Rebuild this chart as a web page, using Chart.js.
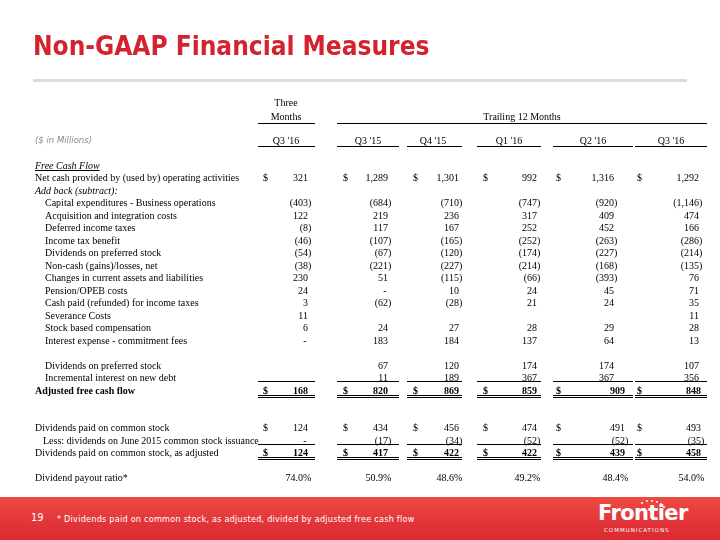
<!DOCTYPE html>
<html>
<head>
<meta charset="utf-8">
<script src="https://cdn.jsdelivr.net/npm/chart.js@4.4.0/dist/chart.umd.min.js"></script>
<style>
  html, body { margin: 0; padding: 0; background: #fff; }
  #slide { position: relative; width: 720px; height: 540px; overflow: hidden; }
  #slide canvas { position: absolute; left: 0; top: 0; }
  #title { position: absolute; left: 33px; top: 33px; font: bold 26px/26px "DejaVu Sans Condensed", "DejaVu Sans", sans-serif; color: #d2232e; white-space: nowrap; }
  #rule { position: absolute; left: 33px; top: 79px; width: 654px; height: 3px; background: #dcdcdc; }
  #foot { position: absolute; left: 0; top: 497px; width: 720px; height: 43px; background: linear-gradient(180deg, #ef4b43 0%, #e3363a 55%, #da2a30 100%); color: #fff; }
  #pg { position: absolute; left: 31px; top: 15px; font: 11px/12px "DejaVu Sans Condensed", sans-serif; }
  #note { position: absolute; left: 57px; top: 17px; font: 9px/10px "DejaVu Sans Condensed", sans-serif; letter-spacing: 0.25px; white-space: nowrap; }
  #fr { position: absolute; left: 598px; top: 5px; font: bold 21px/23px "DejaVu Sans", sans-serif; letter-spacing: -0.6px; }
  #comm { position: absolute; left: 604px; top: 30px; font: 5.5px/6px "DejaVu Sans", sans-serif; letter-spacing: 1px; }
  .dot { position: absolute; width: 2px; height: 2px; border-radius: 1px; background: #fff; }
</style>
</head>
<body>
<div id="slide">
  <canvas id="table" width="720" height="540"></canvas>
  <div id="title">Non-GAAP Financial Measures</div>
  <div id="rule"></div>
  <div id="foot">
    <span id="pg">19</span>
    <span id="note">* Dividends paid on common stock, as adjusted, divided by adjusted free cash flow</span>
    <span class="dot" style="left:641px;top:5px"></span>
    <span class="dot" style="left:646px;top:3px"></span>
    <span class="dot" style="left:651px;top:3px"></span>
    <span class="dot" style="left:656px;top:4px"></span>
    <span class="dot" style="left:660px;top:6px"></span>
    <span class="dot" style="left:663px;top:9px"></span>
    <div id="fr">Frontier</div>
    <div id="comm">COMMUNICATIONS</div>
  </div>
</div>
<script>
// periods ($ in millions); first is the three-month column, the rest trailing 12 months
const periods = ["Q3 '16", "Q3 '15", "Q4 '15", "Q1 '16", "Q2 '16", "Q3 '16"];

const netCashOps        = [321, 1289, 1301, 992, 1316, 1292];
const capexBusiness     = [-403, -684, -710, -747, -920, -1146];
const acquisitionCosts  = [122, 219, 236, 317, 409, 474];
const deferredTaxes     = [-8, 117, 167, 252, 452, 166];
const incomeTaxBenefit  = [-46, -107, -165, -252, -263, -286];
const prefDividendsSub  = [-54, -67, -120, -174, -227, -214];
const nonCashGains      = [-38, -221, -227, -214, -168, -135];
const workingCapital    = [230, 51, -115, -66, -393, 76];
const pensionOpeb       = [24, 0, 10, 24, 45, 71];
const cashTaxes         = [3, -62, -28, 21, 24, 35];
const severanceCosts    = [11, null, null, null, null, 11];
const stockComp         = [6, 24, 27, 28, 29, 28];
const commitmentFees    = [0, 183, 184, 137, 64, 13];
const prefDividendsAdd  = [null, 67, 120, 174, 174, 107];
const newDebtInterest   = [null, 11, 189, 367, 367, 356];
const adjustedFcf       = [168, 820, 869, 859, 909, 848];
const commonDividends   = [124, 434, 456, 474, 491, 493];
const june2015Issuance  = [0, -17, -34, -52, -52, -35];
const adjustedDividends = [124, 417, 422, 422, 439, 458];
const payoutRatio       = [74.0, 50.9, 48.6, 49.2, 48.4, 54.0];

const rows = [
  { label: 'Free Cash Flow', style: 'section' },
  { label: 'Net cash provided by (used by) operating activities', values: netCashOps, dollar: true },
  { label: 'Add back (subtract):', style: 'italic' },
  { label: 'Capital expenditures - Business operations', values: capexBusiness, indent: 1 },
  { label: 'Acquisition and integration costs', values: acquisitionCosts, indent: 1 },
  { label: 'Deferred income taxes', values: deferredTaxes, indent: 1 },
  { label: 'Income tax benefit', values: incomeTaxBenefit, indent: 1 },
  { label: 'Dividends on preferred stock', values: prefDividendsSub, indent: 1 },
  { label: 'Non-cash (gains)/losses, net', values: nonCashGains, indent: 1 },
  { label: 'Changes in current assets and liabilities', values: workingCapital, indent: 1 },
  { label: 'Pension/OPEB costs', values: pensionOpeb, indent: 1 },
  { label: 'Cash paid (refunded) for income taxes', values: cashTaxes, indent: 1 },
  { label: 'Severance Costs', values: severanceCosts, indent: 1 },
  { label: 'Stock based compensation', values: stockComp, indent: 1 },
  { label: 'Interest expense - commitment fees', values: commitmentFees, indent: 1 },
  { label: '' },
  { label: 'Dividends on preferred stock', values: prefDividendsAdd, indent: 1 },
  { label: 'Incremental interest on new debt', values: newDebtInterest, indent: 1, rule: 'single' },
  { label: 'Adjusted free cash flow', values: adjustedFcf, dollar: true, style: 'bold', rule: 'double', lower: true },
  { label: '' },
  { label: '' },
  { label: 'Dividends paid on common stock', values: commonDividends, dollar: true, lower: true },
  { label: 'Less: dividends on June 2015 common stock issuance', values: june2015Issuance, indent: 2, rule: 'single', lower: true },
  { label: 'Dividends paid on common stock, as adjusted', values: adjustedDividends, dollar: true, style: 'boldValues', rule: 'double', lower: true },
  { label: '' },
  { label: 'Dividend payout ratio*', values: payoutRatio, percent: true, lower: true }
];

// layout
const HEAD_ROWS = 5;
const labelX = [35, 45, 43];
const dollarX = [263, 343, 413, 483, 556, 637];
const digitRight = [308, 388, 459, 537, 614, 699];
const lowerShift = [0, 0, 0, 0, 11, 2];
const headCenter = [286, 368, 433, 509, 593, 671];
const ruleSpan = [[258, 315], [337, 399], [407, 462], [477, 541], [553, 633], [635, 707]];
const serif = '"Liberation Serif", "Times New Roman", serif';

function fmt(v, percent) {
  if (v === 0) return '-';
  if (percent) return v.toFixed(1) + '%';
  const s = Math.abs(v).toLocaleString('en-US');
  return v < 0 ? '(' + s + ')' : s;
}

const tablePlugin = {
  id: 'tableText',
  afterDatasetsDraw(chart) {
    const ctx = chart.ctx;
    const x = chart.scales.x, y = chart.scales.y;
    const px = v => x.getPixelForValue(v);
    const py = v => y.getPixelForValue(v);
    const hline = (x0, x1, yy) => {
      const r = Math.round(yy) + 0.5;
      ctx.beginPath();
      ctx.moveTo(px(x0), r);
      ctx.lineTo(px(x1), r);
      ctx.stroke();
    };
    ctx.save();
    ctx.fillStyle = '#000';
    ctx.strokeStyle = '#000';
    ctx.lineWidth = 1;
    ctx.textBaseline = 'alphabetic';

    // column headings
    ctx.font = '10px ' + serif;
    ctx.textAlign = 'center';
    ctx.fillText('Three', px(headCenter[0]), py(0) + 3.5);
    ctx.fillText('Months', px(headCenter[0]), py(1.15) + 3.5);
    ctx.fillText('Trailing 12 Months', px(522), py(1.1) + 3.5);
    periods.forEach((p, c) => ctx.fillText(p, px(headCenter[c]), py(3) + 3.5));
    hline(ruleSpan[0][0], ruleSpan[0][1], py(1.65));
    hline(337, 707, py(1.65));
    ruleSpan.forEach(s => hline(s[0], s[1], py(3.5)));

    ctx.textAlign = 'left';
    ctx.fillStyle = '#8a8a8a';
    ctx.font = 'italic 8.5px "DejaVu Sans", sans-serif';
    ctx.fillText('($ in Millions)', px(35), py(3) + 3);
    ctx.fillStyle = '#000';

    // row labels, dollar signs and rules
    rows.forEach((r, t) => {
      const yy = py(t + HEAD_ROWS);
      const lx = px(labelX[r.indent || 0]);
      ctx.textAlign = 'left';
      ctx.font = (r.style === 'section' || r.style === 'italic' ? 'italic ' : r.style === 'bold' ? 'bold ' : '') + '10px ' + serif;
      ctx.fillText(r.label, lx, yy + 3.5);
      if (r.style === 'section') {
        const w = ctx.measureText(r.label).width;
        hline(labelX[0], labelX[0] + w, yy + 4.5);
      }
      if (r.dollar) {
        ctx.font = (r.style ? 'bold ' : '') + '10px ' + serif;
        dollarX.forEach(d => ctx.fillText('$', px(d), yy + 3.5));
      }
      if (r.rule === 'single') ruleSpan.forEach(s => hline(s[0], s[1], yy + 3.8));
      if (r.rule === 'double') ruleSpan.forEach(s => { hline(s[0], s[1], yy + 4.6); hline(s[0], s[1], yy + 6.6); });
    });

    // cell values from the scatter points
    ctx.textAlign = 'right';
    chart.data.datasets.forEach((ds, c) => {
      chart.getDatasetMeta(c).data.forEach((el, i) => {
        const d = ds.data[i];
        const r = d.row;
        ctx.font = (r.style ? 'bold ' : '') + '10px ' + serif;
        const txt = fmt(d.v, r.percent);
        const hang = (txt.endsWith(')') || txt.endsWith('%')) ? 0 : ctx.measureText(')').width;
        const dash = txt === '-' ? 1.5 : 0;
        ctx.fillText(txt, el.x + ctx.measureText(')').width - hang - dash, el.y + 3.5);
      });
    });
    ctx.restore();
  }
};

new Chart(document.getElementById('table'), {
  type: 'scatter',
  data: {
    datasets: periods.map((p, c) => ({
      label: p,
      pointRadius: 0,
      data: rows.flatMap((r, t) =>
        r.values && r.values[c] !== null
          ? [{ x: digitRight[c] + (r.lower ? lowerShift[c] : 0), y: t + HEAD_ROWS, v: r.values[c], row: r }]
          : [])
    }))
  },
  options: {
    responsive: false,
    animation: false,
    events: [],
    layout: { padding: { top: 102.5, bottom: 62.5, left: 0, right: 0 } },
    plugins: { legend: { display: false }, tooltip: { enabled: false } },
    scales: {
      x: { type: 'linear', min: 0, max: 720, display: false },
      y: { type: 'linear', min: 0, max: HEAD_ROWS + rows.length - 1, reverse: true, display: false }
    }
  },
  plugins: [tablePlugin]
});
</script>
</body>
</html>
